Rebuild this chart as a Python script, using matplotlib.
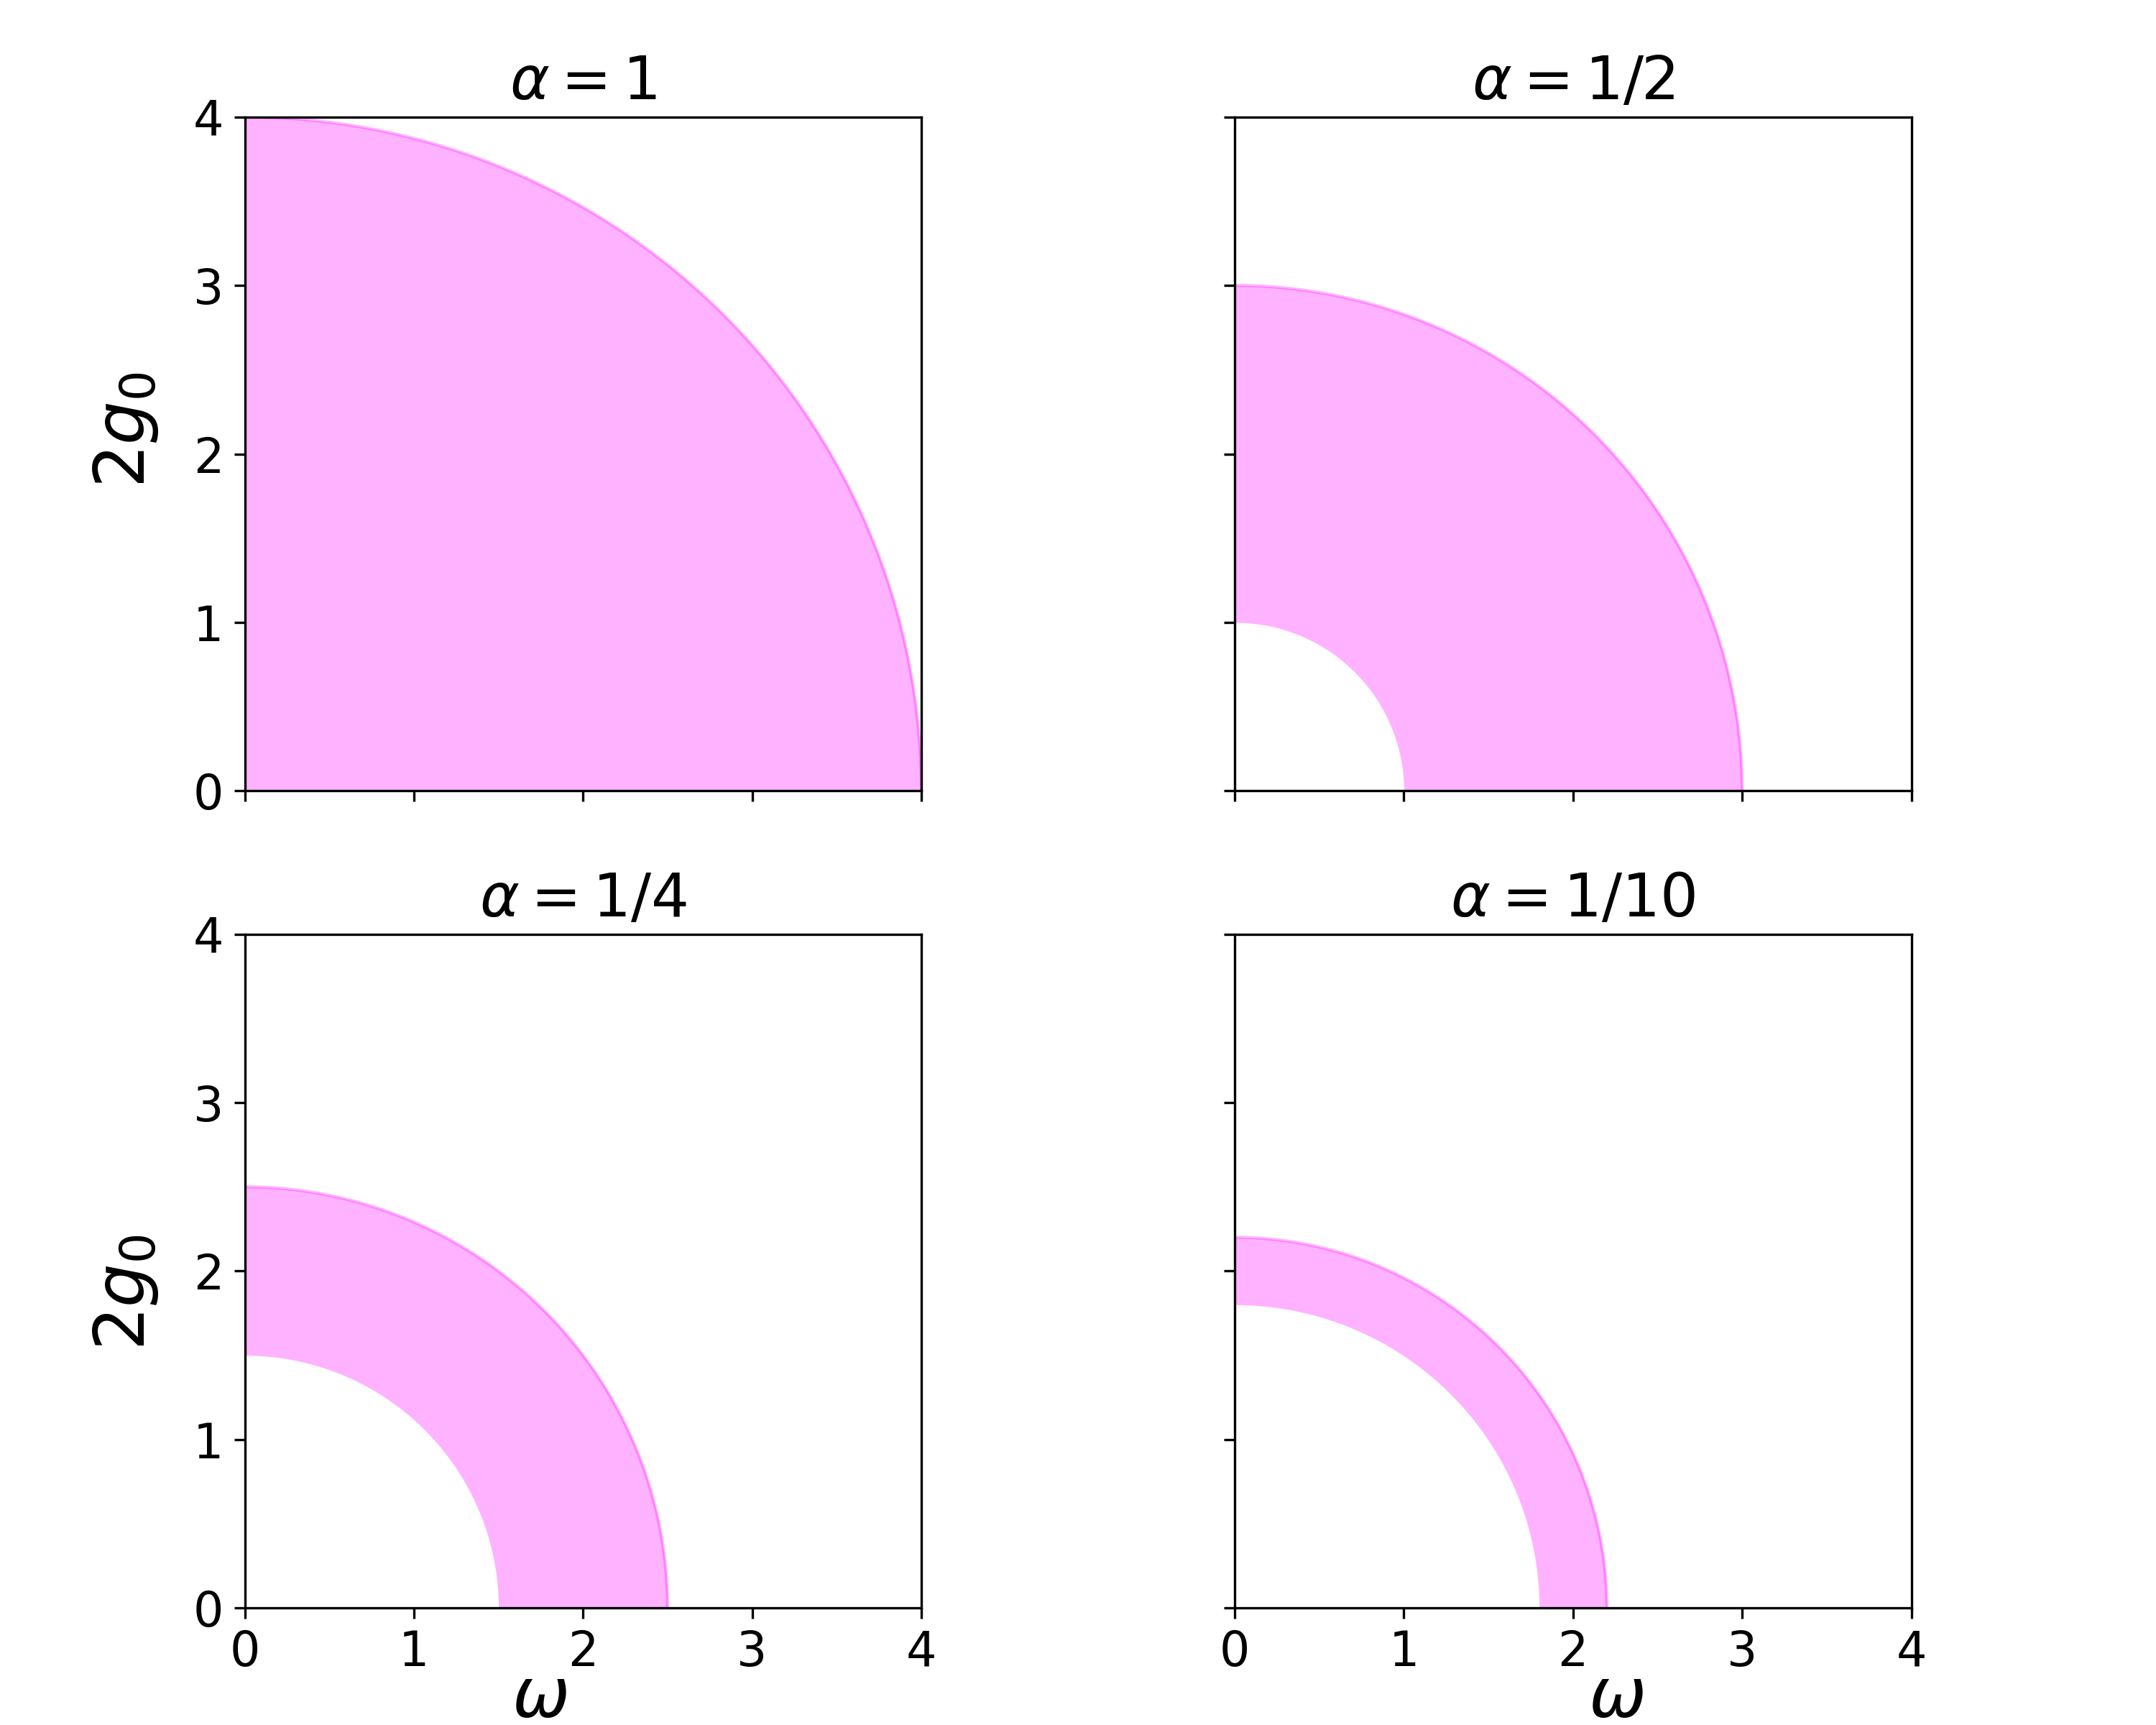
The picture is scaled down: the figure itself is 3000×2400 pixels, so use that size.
import numpy as np
import matplotlib
matplotlib.use("Agg")
import matplotlib.pyplot as plt

# radii of the shaded annulus for each alpha
titles = [r"$\alpha=1$", r"$\alpha=1/2$", r"$\alpha=1/4$", r"$\alpha=1/10$"]
inner_r = [0.0, 1.0, 1.5, 1.8]
outer_r = [4.0, 3.0, 2.5, 2.2]
ticks = [0, 1, 2, 3, 4]

# axes boxes [left, bottom, width, height] in figure fraction
positions = [
    [0.1135, 0.5415, 0.3138, 0.3907],
    [0.5727, 0.5415, 0.3138, 0.3907],
    [0.1135, 0.0678, 0.3138, 0.3907],
    [0.5727, 0.0678, 0.3138, 0.3907],
]

fig, axes = plt.subplots(2, 2, figsize=(10, 8), dpi=300, sharex=True, sharey=True)
axes = axes.ravel()

for i, ax in enumerate(axes):
    ax.set_position(positions[i])
    rin, rout = inner_r[i], outer_r[i]

    # fill between the inner and outer quarter circles
    x = np.linspace(0, rout, 2000)
    y_out = np.sqrt(np.clip(rout**2 - x**2, 0, None))
    y_in = np.sqrt(np.clip(rin**2 - x**2, 0, None))
    ax.fill_between(x, y_in, y_out, color="magenta", alpha=0.3, linewidth=0)
    t = np.linspace(0, np.pi / 2, 500)
    ax.plot(rout * np.cos(t), rout * np.sin(t), color="magenta", alpha=0.3, lw=1.0)

    ax.set_xlim(0, 4)
    ax.set_ylim(0, 4)
    ax.set_xticks(ticks)
    ax.set_yticks(ticks)
    ax.tick_params(labelsize=16)
    ax.set_title(titles[i], fontsize=20)

# axis labels, placed like in the original figure
axes[0].set_ylabel(r"$2g_0$", fontsize=23)
axes[0].yaxis.set_label_coords(-0.125, 0.536)
axes[2].set_ylabel(r"$2g_0$", fontsize=23)
axes[2].yaxis.set_label_coords(-0.125, 0.468)
axes[2].set_xlabel(r"$\omega$", fontsize=23)
axes[2].xaxis.set_label_coords(0.436, -0.084)
axes[3].set_xlabel(r"$\omega$", fontsize=23)
axes[3].xaxis.set_label_coords(0.564, -0.084)

plt.savefig("out.png", dpi=300)
